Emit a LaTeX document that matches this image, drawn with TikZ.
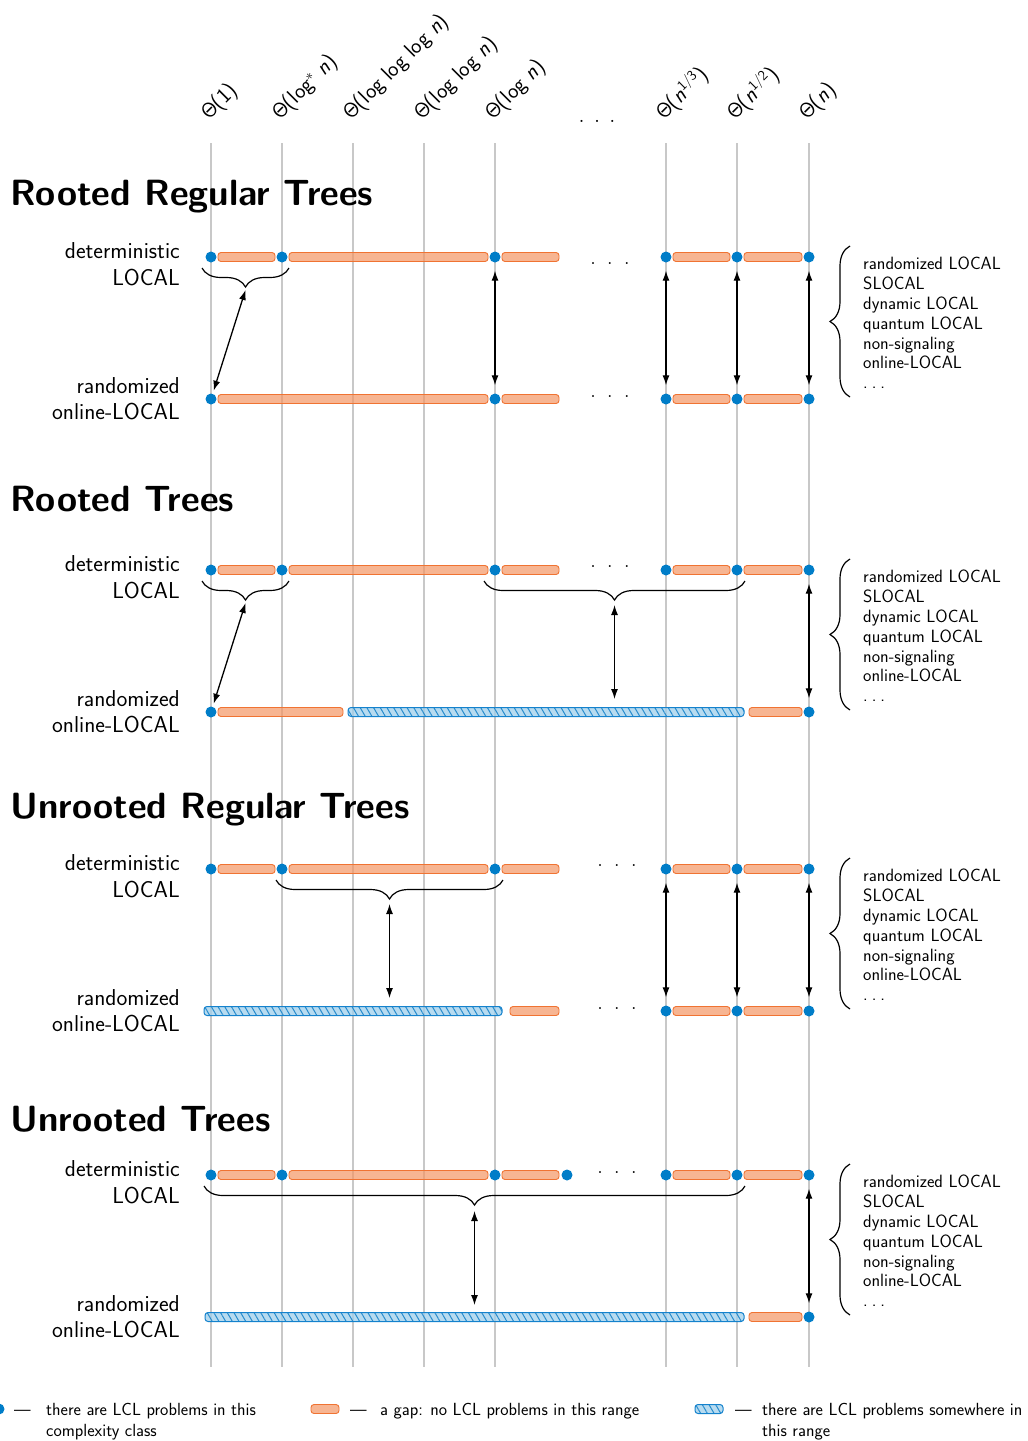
\documentclass[tikz,border=0pt]{standalone}
\usetikzlibrary{arrows.meta,decorations.pathreplacing,patterns.meta}
\definecolor{dotblue}{RGB}{0,125,200}
\definecolor{gapfill}{RGB}{244,150,100}
\definecolor{gapdraw}{RGB}{240,115,50}
\definecolor{hatchfill}{RGB}{160,208,236}
\definecolor{hatchline}{RGB}{40,140,205}
\definecolor{hatchdraw}{RGB}{20,130,205}
\definecolor{vgray}{RGB}{200,200,200}
\newcommand{\mkgap}[3]{\draw[gapbar] (#1,#3-4.5) rectangle (#2,#3+4.5);}
\newcommand{\mkhatch}[3]{\draw[hatchbar] (#1,#3-4.5) rectangle (#2,#3+4.5);}
\newcommand{\tdots}{.\hspace{11pt}.\hspace{11pt}.}
\newcommand{\Th}{$\mathsf{\Theta}$}
\newcommand{\ldts}{.\hspace{4pt}.\hspace{4pt}.}
\begin{document}
\begin{tikzpicture}[x=1pt,y=-1pt,
  dotn/.style={circle,fill=dotblue,inner sep=0pt,minimum size=11pt},
  gapbar/.style={draw=gapdraw,fill=gapfill,fill opacity=0.7,line width=0.9pt,rounded corners=3pt},
  hatchbar/.style={draw=hatchdraw,line width=1pt,rounded corners=3pt,
    preaction={fill=hatchfill,fill opacity=0.75},
    pattern={Lines[angle=-60,distance=5.8pt,line width=1pt]},pattern color=hatchline},
  vline/.style={draw=vgray,line width=1.1pt},
  dbl/.style={{Latex[length=10pt,width=7pt]}-{Latex[length=10pt,width=7pt]},line width=1.3pt},
  bracehor/.style={decorate,decoration={brace,amplitude=19pt,mirror},line width=1.2pt},
  bracever/.style={decorate,decoration={brace,amplitude=20pt},line width=1.2pt},
  title/.style={anchor=base west,inner sep=0pt,font=\fontsize{36.5}{40}\selectfont\sffamily\bfseries},
  lbl/.style={anchor=base east,inner sep=0pt,font=\fontsize{23}{27}\selectfont\sffamily},
  lst/.style={anchor=north west,inner sep=0pt,align=left,font=\fontsize{17.8}{19.8}\selectfont\sffamily},
  toplbl/.style={anchor=base west,inner sep=0pt,rotate=45,font=\fontsize{22}{26}\selectfont\sffamily},
  dts/.style={inner sep=0pt,font=\fontsize{24}{28}\selectfont},
  leg/.style={anchor=base west,inner sep=0pt,font=\fontsize{17.6}{21}\selectfont\sffamily},
]
\useasboundingbox[fill=white] (0,0) rectangle (1028,1441);

% vertical grid lines
\foreach \x in {211,282,353,424,495,666,737,809} \draw[vline] (\x,143) -- (\x,1367);

% top labels
\node[toplbl] (h1) at (209,121) {\Th(1)};
\node[toplbl] (h2) at (280,121) {\Th(log$^{*}$ {\itshape n})};
\node[toplbl] (h3) at (351,121) {\Th(log log log {\itshape n})};
\node[toplbl] (h4) at (422,121) {\Th(log log {\itshape n})};
\node[toplbl] (h5) at (493,121) {\Th(log {\itshape n})};
\node[toplbl] (h6) at (664,121) {\Th({\itshape n}$^{\mathsf{1/3}}$)};
\node[toplbl] (h7) at (735,121) {\Th({\itshape n}$^{\mathsf{1/2}}$)};
\node[toplbl] (h8) at (807,121) {\Th({\itshape n})};
\node[inner sep=0pt,font=\fontsize{26}{30}\selectfont] (hd) at (597,121) {.\hspace{9pt}.\hspace{9pt}.};

% ================= Row 1: Rooted Regular Trees
\node[title] (t1) at (10,205) {Rooted Regular Trees};
\node[lbl] (l1a) at (180,258) {deterministic};
\node[lbl] (l1b) at (180,285) {LOCAL};
\node[lbl] (l1c) at (180,393) {randomized};
\node[lbl] (l1d) at (180,419) {online-LOCAL};
\mkgap{218}{275}{257}\mkgap{289}{488}{257}\mkgap{502}{559}{257}\mkgap{673}{730}{257}\mkgap{744}{802}{257}
\mkgap{218}{488}{399}\mkgap{502}{559}{399}\mkgap{673}{730}{399}\mkgap{744}{802}{399}
\node[dotn] (a11) at (211,257) {};
\node[dotn] (a12) at (282,257) {};
\node[dotn] (a15) at (495,257) {};
\node[dotn] (a16) at (666,257) {};
\node[dotn] (a17) at (737,257) {};
\node[dotn] (a18) at (809,257) {};
\node[dotn] (b11) at (211,399) {};
\node[dotn] (b15) at (495,399) {};
\node[dotn] (b16) at (666,399) {};
\node[dotn] (b17) at (737,399) {};
\node[dotn] (b18) at (809,399) {};
\node[dts] (e1a) at (610,264) {\tdots};
\node[dts] (e1b) at (610,397) {\tdots};
\draw[bracehor] (202,268) -- (289,268);
\coordinate (bt1) at (245.5,290);
\draw[dbl,shorten >=3pt] (bt1) -- (b11);
\draw[dbl,shorten <=8pt,shorten >=8pt] (a15) -- (b15);
\draw[dbl,shorten <=8pt,shorten >=8pt] (a16) -- (b16);
\draw[dbl,shorten <=8pt,shorten >=8pt] (a17) -- (b17);
\draw[dbl,shorten <=8pt,shorten >=8pt] (a18) -- (b18);
\draw[bracever] (850,397) -- (850,246);
\node[lst] (s1) at (863,257) {randomized LOCAL\\SLOCAL\\dynamic LOCAL\\quantum LOCAL\\non-signaling\\online-LOCAL\\\ldts};

% ================= Row 2: Rooted Trees
\node[title] (t2) at (10,511) {Rooted Trees};
\node[lbl] (l2a) at (180,571) {deterministic};
\node[lbl] (l2b) at (180,598) {LOCAL};
\node[lbl] (l2c) at (180,706) {randomized};
\node[lbl] (l2d) at (180,732) {online-LOCAL};
\mkgap{218}{275}{570}\mkgap{289}{488}{570}\mkgap{502}{559}{570}\mkgap{673}{730}{570}\mkgap{744}{802}{570}
\mkgap{218}{343}{712}\mkhatch{348}{744}{712}\mkgap{749}{802}{712}
\node[dotn] (a21) at (211,570) {};
\node[dotn] (a22) at (282,570) {};
\node[dotn] (a25) at (495,570) {};
\node[dotn] (a26) at (666,570) {};
\node[dotn] (a27) at (737,570) {};
\node[dotn] (a28) at (809,570) {};
\node[dotn] (b21) at (211,712) {};
\node[dotn] (b28) at (809,712) {};
\node[dts] (e2a) at (610,567) {\tdots};
\draw[bracehor] (202,581) -- (289,581);
\draw[bracehor] (484,581) -- (745,581);
\coordinate (bt2) at (245.5,603);
\coordinate (ct2) at (614.5,605);
\coordinate (cb2) at (614.5,699);
\draw[dbl,shorten >=3pt] (bt2) -- (b21);
\draw[dbl] (ct2) -- (cb2);
\draw[dbl,shorten <=8pt,shorten >=8pt] (a28) -- (b28);
\draw[bracever] (850,710) -- (850,559);
\node[lst] (s2) at (863,570) {randomized LOCAL\\SLOCAL\\dynamic LOCAL\\quantum LOCAL\\non-signaling\\online-LOCAL\\\ldts};

% ================= Row 3: Unrooted Regular Trees
\node[title] (t3) at (10,818) {Unrooted Regular Trees};
\node[lbl] (l3a) at (180,870) {deterministic};
\node[lbl] (l3b) at (180,897) {LOCAL};
\node[lbl] (l3c) at (180,1005) {randomized};
\node[lbl] (l3d) at (180,1031) {online-LOCAL};
\mkgap{218}{275}{869}\mkgap{289}{488}{869}\mkgap{502}{559}{869}\mkgap{673}{730}{869}\mkgap{744}{802}{869}
\mkhatch{204}{502}{1011}\mkgap{510}{559}{1011}\mkgap{673}{730}{1011}\mkgap{744}{802}{1011}
\node[dotn] (a31) at (211,869) {};
\node[dotn] (a32) at (282,869) {};
\node[dotn] (a35) at (495,869) {};
\node[dotn] (a36) at (666,869) {};
\node[dotn] (a37) at (737,869) {};
\node[dotn] (a38) at (809,869) {};
\node[dotn] (b36) at (666,1011) {};
\node[dotn] (b37) at (737,1011) {};
\node[dotn] (b38) at (809,1011) {};
\node[dts] (e3a) at (617,866) {\tdots};
\node[dts] (e3b) at (617,1009) {\tdots};
\draw[bracehor] (276,880) -- (503,880);
\coordinate (ct3) at (389.5,904);
\coordinate (cb3) at (389.5,998);
\draw[dbl] (ct3) -- (cb3);
\draw[dbl,shorten <=8pt,shorten >=8pt] (a36) -- (b36);
\draw[dbl,shorten <=8pt,shorten >=8pt] (a37) -- (b37);
\draw[dbl,shorten <=8pt,shorten >=8pt] (a38) -- (b38);
\draw[bracever] (850,1009) -- (850,858);
\node[lst] (s3) at (863,869) {randomized LOCAL\\SLOCAL\\dynamic LOCAL\\quantum LOCAL\\non-signaling\\online-LOCAL\\\ldts};

% ================= Row 4: Unrooted Trees
\node[title] (t4) at (10,1131) {Unrooted Trees};
\node[lbl] (l4a) at (180,1176) {deterministic};
\node[lbl] (l4b) at (180,1203) {LOCAL};
\node[lbl] (l4c) at (180,1311) {randomized};
\node[lbl] (l4d) at (180,1337) {online-LOCAL};
\mkgap{218}{275}{1175}\mkgap{289}{488}{1175}\mkgap{502}{559}{1175}\mkgap{673}{730}{1175}\mkgap{744}{802}{1175}
\mkhatch{205}{744}{1317}\mkgap{749}{802}{1317}
\node[dotn] (a41) at (211,1175) {};
\node[dotn] (a42) at (282,1175) {};
\node[dotn] (a45) at (495,1175) {};
\node[dotn] (a4x) at (567,1175) {};
\node[dotn] (a46) at (666,1175) {};
\node[dotn] (a47) at (737,1175) {};
\node[dotn] (a48) at (809,1175) {};
\node[dotn] (b48) at (809,1317) {};
\node[dts] (e4a) at (617,1172) {\tdots};
\draw[bracehor] (204,1186) -- (745,1186);
\coordinate (ct4) at (474.5,1211);
\coordinate (cb4) at (474.5,1305);
\draw[dbl] (ct4) -- (cb4);
\draw[dbl,shorten <=8pt,shorten >=8pt] (a48) -- (b48);
\draw[bracever] (850,1315) -- (850,1164);
\node[lst] (s4) at (863,1175) {randomized LOCAL\\SLOCAL\\dynamic LOCAL\\quantum LOCAL\\non-signaling\\online-LOCAL\\\ldts};

% ================= Legend
\node[dotn] (g1) at (-1,1409) {};
\node[leg] (g1d) at (14,1415) {---};
\node[leg] (g1t) at (46,1415) {there are LCL problems in this};
\node[leg] (g1u) at (46,1436) {complexity class};
\draw[gapbar] (311,1404.5) rectangle (339,1413.5);
\node[leg] (g2d) at (350,1415) {---};
\node[leg] (g2t) at (380,1415) {a gap: no LCL problems in this range};
\draw[hatchbar] (695,1404.5) rectangle (723,1413.5);
\node[leg] (g3d) at (735,1415) {---};
\node[leg] (g3t) at (762,1415) {there are LCL problems somewhere in};
\node[leg] (g3u) at (762,1436) {this range};
\end{tikzpicture}
\end{document}
